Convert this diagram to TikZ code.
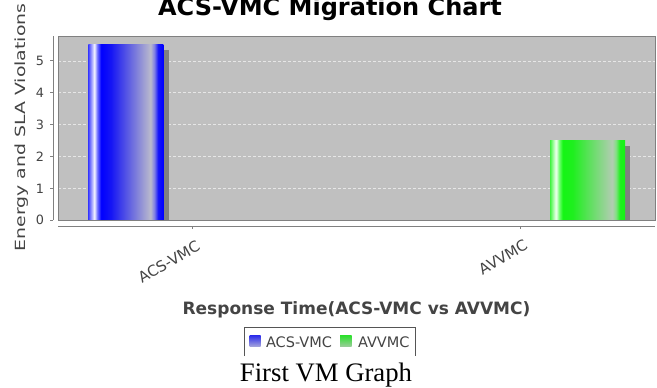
\documentclass[tikz,border=0pt]{standalone}
\usepackage{fontspec}
\setmainfont{DejaVu Sans}
\newfontfamily\capserif{Liberation Serif}
\usepackage{graphicx}
\definecolor{plotbg}{RGB}{192,192,192}
\definecolor{axisgray}{RGB}{128,128,128}
\definecolor{txtgray}{RGB}{68,68,68}
\definecolor{gridwhite}{RGB}{230,230,230}
\definecolor{shadowgray}{RGB}{128,128,128}
\definecolor{legendline}{RGB}{85,85,85}
\pgfdeclarehorizontalshading{bluebar}{100bp}{%
rgb(0bp)=(0.235,0.235,1);
rgb(25bp)=(0.235,0.235,1);
rgb(27bp)=(0.6,0.6,1);
rgb(29bp)=(0.96,0.96,1);
rgb(31bp)=(0.43,0.43,1);
rgb(33.5bp)=(0,0,1);
rgb(40bp)=(0.08,0.08,0.96);
rgb(66.5bp)=(0.73,0.73,0.80);
rgb(69bp)=(0.5,0.5,0.9);
rgb(71.5bp)=(0.08,0.08,0.98);
rgb(75bp)=(0,0,1);
rgb(100bp)=(0,0,1)}
\pgfdeclarehorizontalshading{greenbar}{100bp}{%
rgb(0bp)=(0.25,0.95,0.25);
rgb(25bp)=(0.25,0.95,0.25);
rgb(27bp)=(0.6,1,0.6);
rgb(29bp)=(0.96,1,0.96);
rgb(31bp)=(0.45,1,0.45);
rgb(33.5bp)=(0.08,0.96,0.08);
rgb(40bp)=(0.12,0.94,0.12);
rgb(66.5bp)=(0.70,0.80,0.70);
rgb(69bp)=(0.5,0.88,0.5);
rgb(71.5bp)=(0.12,0.94,0.12);
rgb(75bp)=(0.08,0.96,0.08);
rgb(100bp)=(0.08,0.96,0.08)}
\tikzset{
  txt/.style={inner sep=0pt, outer sep=0pt},
  ticklab/.style={txt, text=txtgray, font=\fontsize{12.8bp}{13bp}\selectfont, anchor=east},
  catlab/.style={txt, text=txtgray, font=\fontsize{15bp}{15bp}\selectfont, rotate=30},
  leglab/.style={txt, text=txtgray, font=\fontsize{14.5bp}{15bp}\selectfont, anchor=base west},
  gridline/.style={gridwhite, line width=0.8bp, dash pattern=on 2.5bp off 2.5bp},
  axisline/.style={axisgray, line width=1bp},
  barshadow/.style={fill=shadowgray, draw=none},
}
\begin{document}
\begin{tikzpicture}[x=1bp,y=-1bp]
\useasboundingbox (0,0) rectangle (657,387);
\clip (0,0) rectangle (657,387);
\fill[white] (0,0) rectangle (657,387);
% plot area
\fill[plotbg] (58,36) rectangle (655,220.3);
\foreach \v in {1,2,3,4,5}{
  \draw[gridline] (58,{220.3-31.87*\v}) -- (655,{220.3-31.87*\v});
}
% shadows
\fill[barshadow] (93.5,50) rectangle (169.3,220.3);
\fill[barshadow] (555,145.7) rectangle (630.3,220.3);
% bars
\shade[shading=bluebar] (88.3,44.7) rectangle (163.3,220.3);
\shade[shading=greenbar] (550,140) rectangle (625,220.3);
\draw[axisline] (58,36) rectangle (655,220.3);
% y axis
\draw[axisline] (53,36) -- (53,220.3);
\foreach \v in {0,1,2,3,4,5}{
  \draw[axisline] (50,{220.3-31.87*\v}) -- (53,{220.3-31.87*\v});
  \node[ticklab] (yt\v) at (44,{220.3-31.87*\v}) {\v};
}
\node[txt, rotate=90, anchor=base, text=txtgray] (ylab) at (25,127.5)
  {\scalebox{1.35}[1]{\fontsize{14bp}{14bp}\selectfont Energy and SLA Violations}};
% x axis
\draw[axisline] (58,226) -- (655,226);
\draw[axisline] (192.5,226) -- (192.5,229);
\draw[axisline] (520.5,226) -- (520.5,229);
\node[catlab] (c1) at (169,262) {ACS-VMC};
\node[catlab] (c2) at (503,257) {AVVMC};
\node[txt, anchor=base, text=txtgray, font=\fontsize{17bp}{17bp}\selectfont\bfseries] (xlab) at (356.5,314)
  {Response Time(ACS-VMC vs AVVMC)};
% title
\node[txt, anchor=base, font=\fontsize{24bp}{24bp}\selectfont\bfseries] (title) at (330,15.5)
  {ACS-VMC Migration Chart};
% legend
\draw[legendline, line width=1bp] (244,356) -- (244,327) -- (415,327) -- (415,356);
\shade[top color={rgb,255:red,40;green,40;blue,235}, bottom color={rgb,255:red,160;green,160;blue,220}] (249.5,335) rectangle (260.5,346);
\node[leglab] (l1) at (266,347) {ACS-VMC};
\shade[top color={rgb,255:red,40;green,225;blue,40}, bottom color={rgb,255:red,150;green,205;blue,150}] (340,335) rectangle (351.5,346);
\node[leglab] (l2) at (358,347) {AVVMC};
% caption
\node[txt, anchor=base, font=\capserif\fontsize{26.7bp}{27bp}\selectfont] (cap) at (326,381) {First VM Graph};
\end{tikzpicture}
\end{document}
